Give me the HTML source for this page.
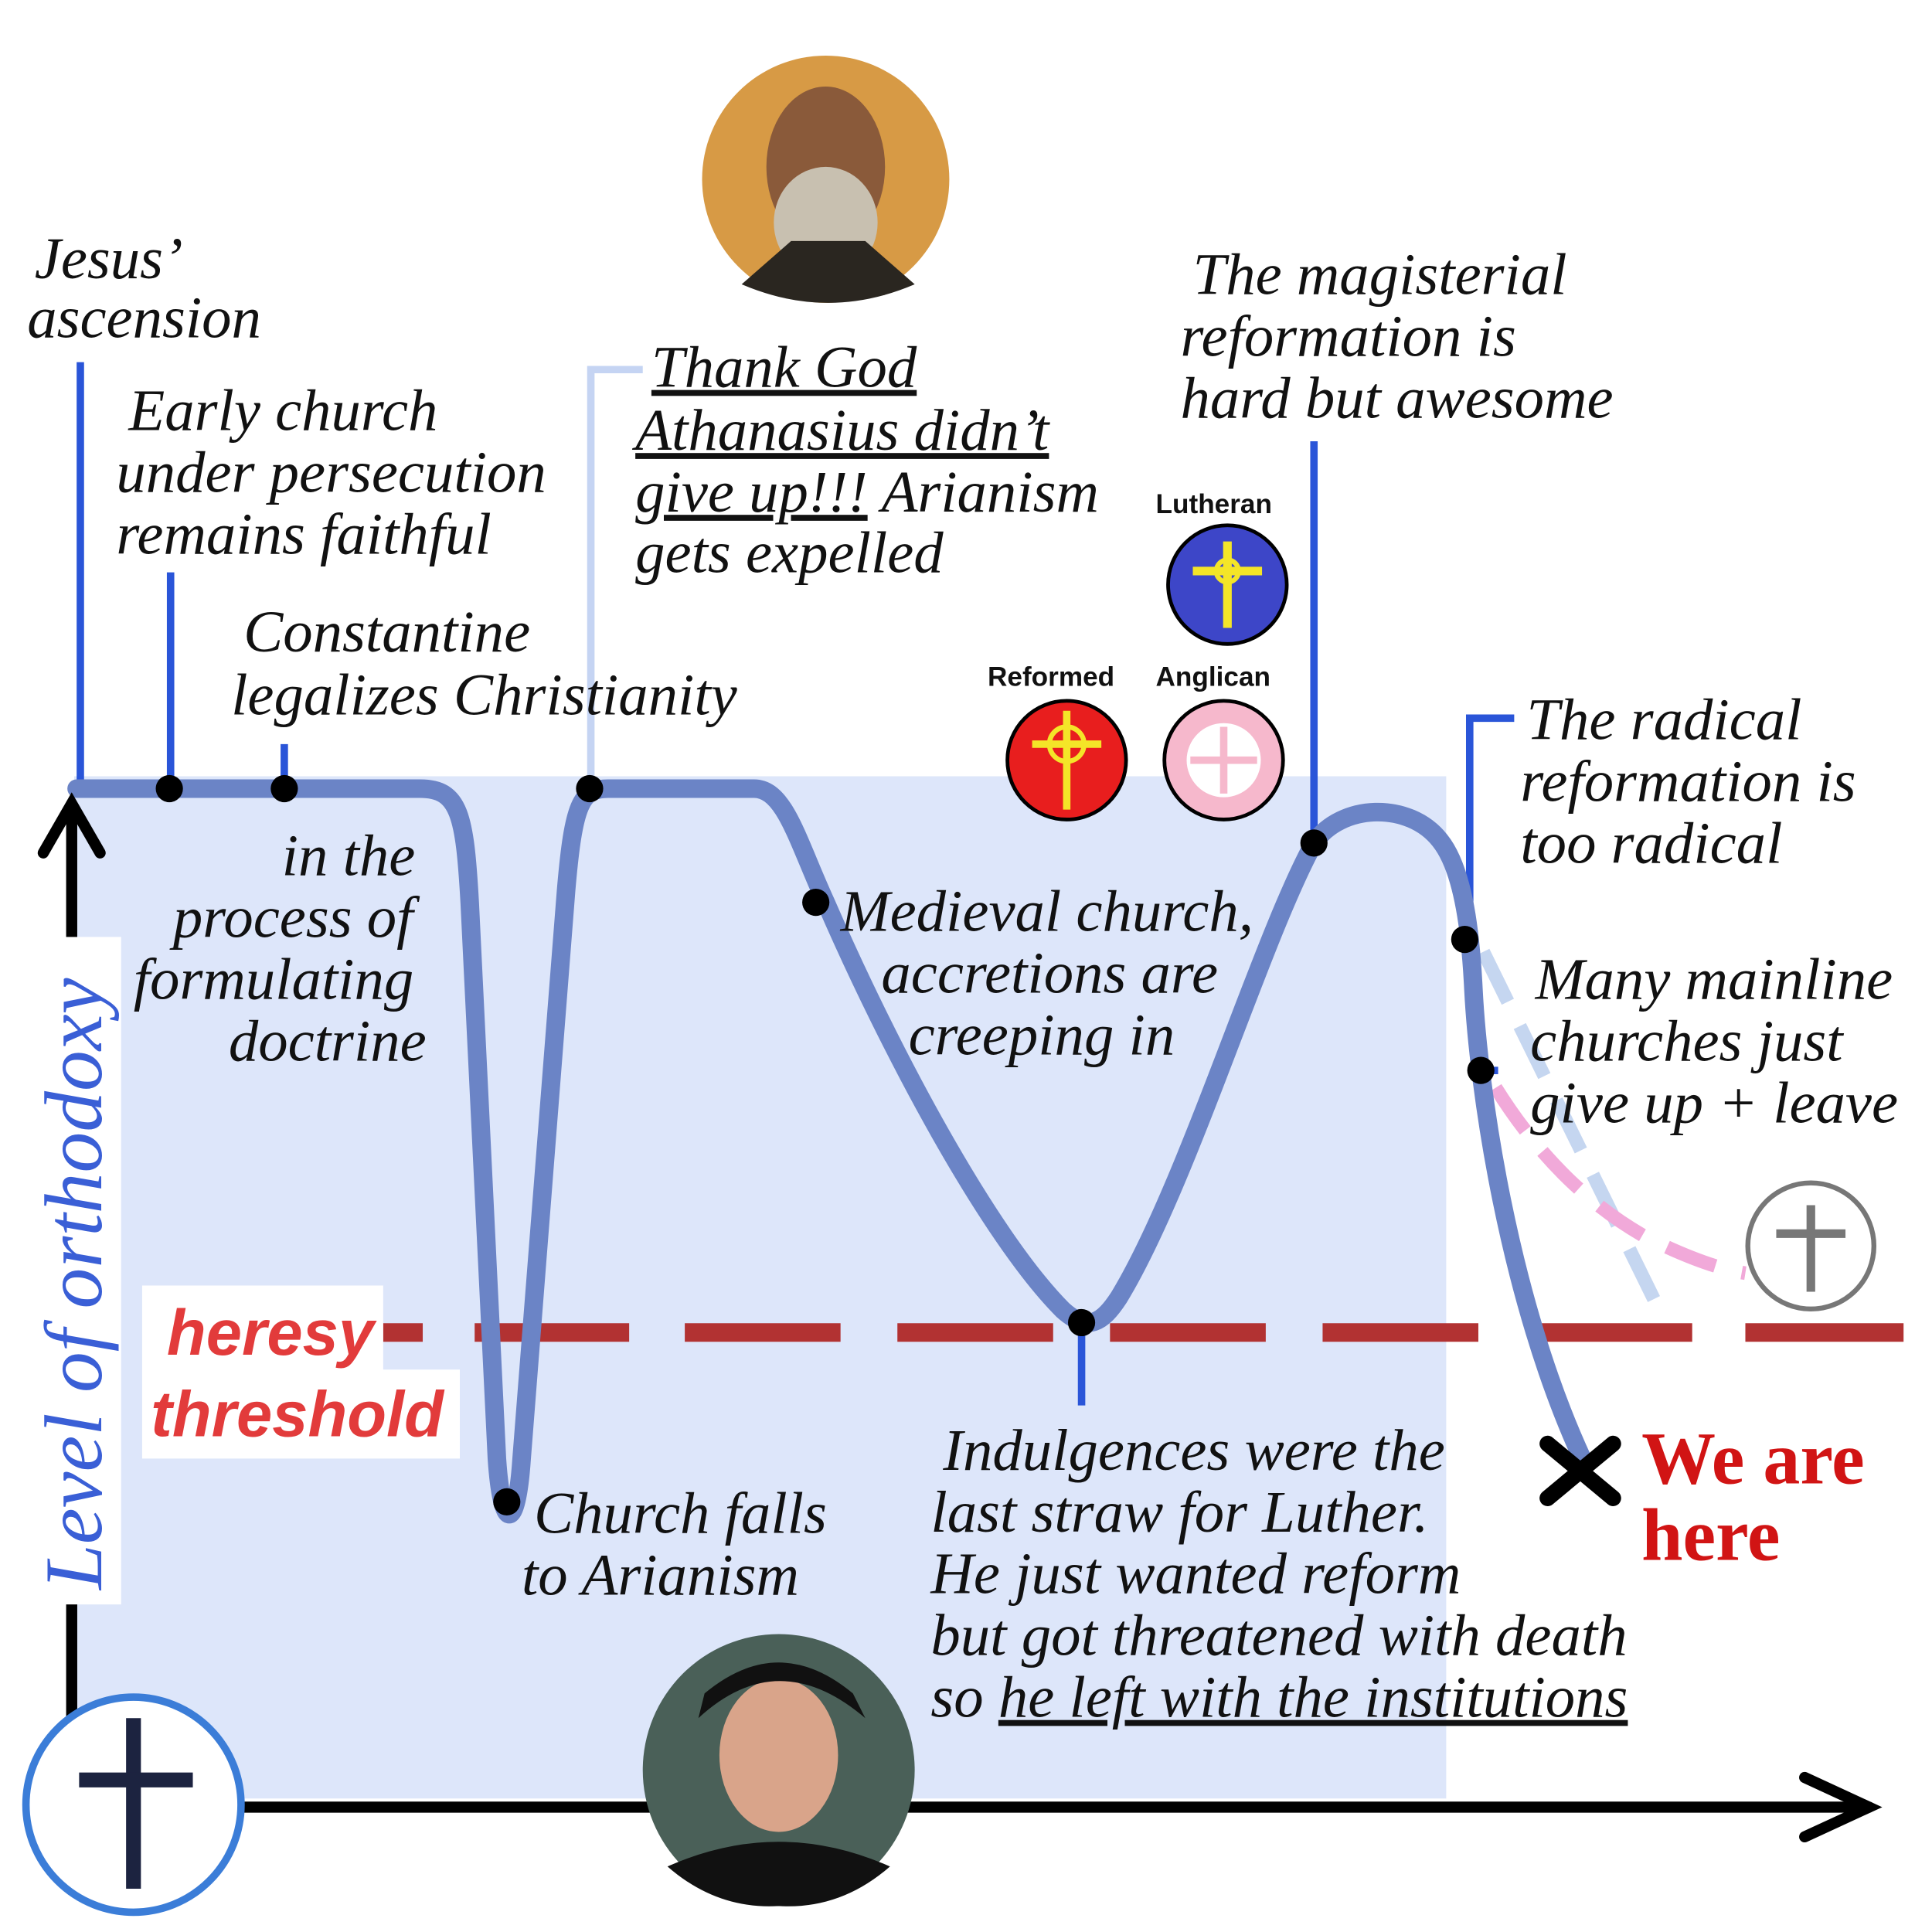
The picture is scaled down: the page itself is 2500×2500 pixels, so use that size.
<!DOCTYPE html>
<html><head><meta charset="utf-8"><style>
html,body{margin:0;padding:0;background:#fff;}
svg{display:block;}
.t{font-family:"Liberation Serif",serif;font-style:italic;font-size:48px;fill:#111;}
.b{font-family:"Liberation Sans",sans-serif;font-weight:bold;font-size:22px;fill:#111;}
</style></head><body>
<svg width="2500" height="2500" viewBox="0 0 1563 1563" xmlns="http://www.w3.org/2000/svg">
<rect width="1563" height="1563" fill="#fff"/>
<rect x="60" y="628" width="1110" height="827" fill="#dde6fa"/>

<g stroke="#2a55d8" stroke-width="6" fill="none">
<line x1="65" y1="293" x2="65" y2="632"/>
<line x1="138" y1="463" x2="138" y2="632"/>
<line x1="230" y1="602" x2="230" y2="632"/>
<line x1="1063" y1="357" x2="1063" y2="682"/>
<line x1="875" y1="1078" x2="875" y2="1137"/>
<polyline points="1225,581 1189,581 1189,760"/>
<line x1="1198" y1="866" x2="1212" y2="866"/>
</g>
<polyline points="520,299 478,299 478,632" stroke="#c5d4f3" stroke-width="6" fill="none"/>

<line x1="310" y1="1078" x2="1540" y2="1078" stroke="#b23232" stroke-width="15" stroke-dasharray="32 42 125 45 126 46 126 46 126 46 126 45 128 43 132"/>

<path d="M1200,770 L1340,1055" stroke="#c5d6f0" stroke-width="11" fill="none" stroke-dasharray="45 22"/>
<path d="M1210,880 Q1260,960 1330,1000 Q1380,1025 1412,1030" stroke="#f1a9d9" stroke-width="11" fill="none" stroke-dasharray="42 22"/>

<path d="M62,638 L340,638 C372,638 376,660 380,730 L402,1180 C406,1240 418,1240 422,1180 L458,720 C464,650 470,638 492,638 L610,638 C635,638 645,680 668,730 C720,850 800,1000 860,1060 C880,1078 892,1070 905,1050 C960,960 1020,760 1063,682 C1085,650 1140,648 1165,680 C1185,705 1190,760 1192,800 C1196,880 1220,1050 1280,1180" stroke="#6b84c6" stroke-width="15" fill="none" stroke-linecap="round" stroke-linejoin="round"/>

<g fill="#000">
<circle cx="137" cy="638" r="11"/><circle cx="230" cy="638" r="11"/><circle cx="477" cy="638" r="11"/>
<circle cx="660" cy="730" r="11"/><circle cx="875" cy="1070" r="11"/><circle cx="1063" cy="682" r="11"/>
<circle cx="1185" cy="760" r="11"/><circle cx="1198" cy="866" r="11"/><circle cx="410" cy="1215" r="11"/>
</g>

<g stroke="#000" stroke-width="9" fill="none" stroke-linecap="round">
<line x1="58" y1="652" x2="58" y2="1462"/>
<polyline points="35,690 58,650 81,690"/>
<line x1="58" y1="1462" x2="1512" y2="1462"/>
<polyline points="1460,1438 1512,1462 1460,1486"/>
</g>

<rect x="28" y="758" width="70" height="540" fill="#fff"/>
<text transform="translate(82,1286) rotate(-90)" style="font-family:'Liberation Serif',serif;font-style:italic;font-size:66px;fill:#3a5fd6">Level of orthodoxy</text>

<rect x="115" y="1040" width="195" height="72" fill="#fff"/>
<rect x="115" y="1108" width="257" height="72" fill="#fff"/>
<text x="135" y="1096" style="font-family:'Liberation Sans',sans-serif;font-weight:bold;font-style:italic;font-size:52px;fill:#e23b3b">heresy</text>
<text x="122" y="1162" style="font-family:'Liberation Sans',sans-serif;font-weight:bold;font-style:italic;font-size:52px;fill:#e23b3b">threshold</text>

<circle cx="108" cy="1460" r="87" fill="#fff" stroke="#3b7dd8" stroke-width="6"/>
<line x1="108" y1="1390" x2="108" y2="1528" stroke="#1c2340" stroke-width="12"/>
<line x1="64" y1="1440" x2="156" y2="1440" stroke="#1c2340" stroke-width="12"/>

<circle cx="1465" cy="1008" r="51" fill="#fff" stroke="#777" stroke-width="4"/>
<line x1="1465" y1="975" x2="1465" y2="1045" stroke="#777" stroke-width="7"/>
<line x1="1437" y1="998" x2="1493" y2="998" stroke="#777" stroke-width="7"/>

<g stroke="#000" stroke-width="13" stroke-linecap="round">
<line x1="1252" y1="1168" x2="1305" y2="1212"/><line x1="1305" y1="1168" x2="1252" y2="1212"/>
</g>
<text x="1328" y="1200" style="font-family:'Liberation Serif',serif;font-weight:bold;font-size:60px;fill:#d11414">We are</text>
<text x="1328" y="1262" style="font-family:'Liberation Serif',serif;font-weight:bold;font-size:60px;fill:#d11414">here</text>

<circle cx="668" cy="145" r="100" fill="#d79a45"/>
<ellipse cx="668" cy="135" rx="48" ry="65" fill="#8a5a3a"/>
<ellipse cx="668" cy="180" rx="42" ry="45" fill="#c8c0b0"/>
<path d="M600,230 L640,195 L700,195 L740,230 Q670,260 600,230Z" fill="#2a2620"/>
<circle cx="630" cy="1432" r="110" fill="#4a6058"/>
<ellipse cx="630" cy="1420" rx="48" ry="62" fill="#d9a48a"/>
<path d="M565,1390 Q630,1330 700,1390 L690,1370 Q630,1320 570,1370Z" fill="#111"/>
<path d="M540,1510 Q630,1470 720,1510 Q680,1545 630,1542 Q580,1545 540,1510Z" fill="#111"/>

<circle cx="993" cy="473" r="48" fill="#3d46c8" stroke="#000" stroke-width="3"/>
<line x1="993" y1="438" x2="993" y2="508" stroke="#f4e528" stroke-width="7"/>
<line x1="965" y1="462" x2="1021" y2="462" stroke="#f4e528" stroke-width="7"/>
<circle cx="993" cy="462" r="9" fill="none" stroke="#f4e528" stroke-width="4"/>
<circle cx="863" cy="615" r="48" fill="#e81e1e" stroke="#000" stroke-width="3"/>
<line x1="863" y1="575" x2="863" y2="655" stroke="#f4e528" stroke-width="6"/>
<line x1="835" y1="602" x2="891" y2="602" stroke="#f4e528" stroke-width="6"/>
<circle cx="863" cy="602" r="14" fill="none" stroke="#f4e528" stroke-width="4"/>
<circle cx="990" cy="615" r="48" fill="#f6b8cc" stroke="#000" stroke-width="3"/>
<circle cx="990" cy="615" r="30" fill="#fff"/>
<g stroke="#f6b8cc" stroke-width="6"><line x1="990" y1="588" x2="990" y2="642"/><line x1="963" y1="615" x2="1017" y2="615"/></g>
<text class="b" x="935" y="415">Lutheran</text>
<text class="b" x="799" y="555">Reformed</text>
<text class="b" x="935" y="555">Anglican</text>

<text class="t" x="28" y="225">Jesus’</text>
<text class="t" x="22" y="273">ascension</text>
<text class="t" x="104" y="348">Early church</text>
<text class="t" x="94" y="398">under persecution</text>
<text class="t" x="94" y="448">remains faithful</text>
<text class="t" x="197" y="527">Constantine</text>
<text class="t" x="187" y="578">legalizes Christianity</text>
<text class="t" x="228" y="708">in the</text>
<text class="t" x="140" y="758">process of</text>
<text class="t" x="108" y="808">formulating</text>
<text class="t" x="185" y="858">doctrine</text>
<text class="t" x="527" y="313" text-decoration="underline">Thank God</text>
<text class="t" x="514" y="364" text-decoration="underline">Athanasius didn’t</text>
<text class="t" x="514" y="414"><tspan text-decoration="underline">give up!!!</tspan> Arianism</text>
<text class="t" x="514" y="463">gets expelled</text>
<text class="t" x="965" y="238">The magisterial</text>
<text class="t" x="955" y="288">reformation is</text>
<text class="t" x="955" y="338">hard but awesome</text>
<text class="t" x="680" y="753">Medieval church,</text>
<text class="t" x="713" y="803">accretions are</text>
<text class="t" x="735" y="853">creeping in</text>
<text class="t" x="1235" y="598">The radical</text>
<text class="t" x="1230" y="648">reformation is</text>
<text class="t" x="1230" y="698">too radical</text>
<text class="t" x="1242" y="808">Many mainline</text>
<text class="t" x="1238" y="858">churches just</text>
<text class="t" x="1238" y="908">give up + leave</text>
<text class="t" x="432" y="1240">Church falls</text>
<text class="t" x="422" y="1290">to Arianism</text>
<text class="t" x="763" y="1189">Indulgences were the</text>
<text class="t" x="753" y="1239">last straw for Luther.</text>
<text class="t" x="753" y="1289">He just wanted reform</text>
<text class="t" x="753" y="1339">but got threatened with death</text>
<text class="t" x="753" y="1389">so <tspan text-decoration="underline">he left with the institutions</tspan></text>
</svg>
</body></html>
